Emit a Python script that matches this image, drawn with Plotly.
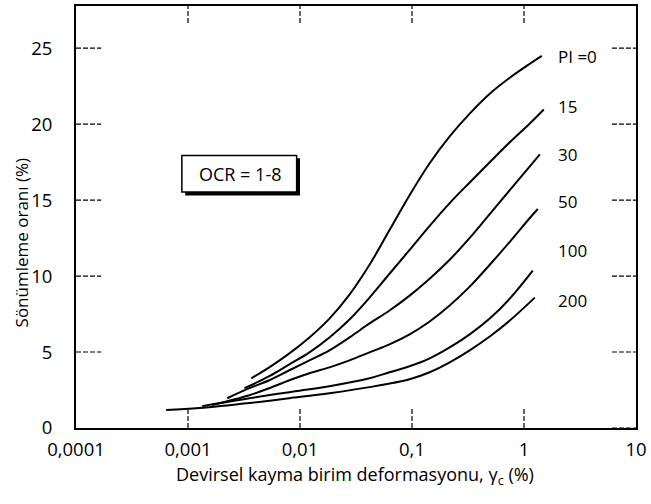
import plotly.graph_objects as go

# Cyclic shear strain (%) and damping ratio (%) for each plasticity index
pi_labels = ["PI =0", "15", "30", "50", "100", "200"]

strain_pi0 = [0.00367, 0.00532, 0.00804, 0.01214, 0.01832, 0.02766, 0.04176, 0.0630, 0.0952,
              0.1437, 0.2169, 0.3275, 0.4944, 0.7464, 1.127, 1.443]
damp_pi0 = [3.27, 3.99, 4.91, 5.96, 7.20, 8.78, 10.74, 13.03, 15.32,
            17.42, 19.19, 20.69, 22.00, 23.05, 23.97, 24.49]

strain_pi15 = [0.00319, 0.00532, 0.00804, 0.01214, 0.01832, 0.02766, 0.04176, 0.0630, 0.0952,
               0.1437, 0.2169, 0.3275, 0.4944, 0.7464, 1.127, 1.503]
damp_pi15 = [2.62, 3.41, 4.19, 4.98, 5.96, 7.14, 8.58, 10.15, 11.72,
             13.30, 14.80, 16.16, 17.49, 18.80, 20.04, 20.96]

strain_pi30 = [0.00224, 0.00353, 0.00532, 0.00804, 0.01214, 0.01832, 0.02766, 0.04176, 0.0630,
               0.0952, 0.1437, 0.2169, 0.3275, 0.4944, 0.7464, 1.127, 1.385]
damp_pi30 = [1.96, 2.62, 3.14, 3.80, 4.45, 5.11, 5.96, 6.88, 7.73,
             8.71, 9.82, 11.07, 12.51, 14.08, 15.65, 17.22, 18.01]

strain_pi50 = [0.00164, 0.00353, 0.00532, 0.00804, 0.01214, 0.01832, 0.02766, 0.04176, 0.0630,
               0.0952, 0.1437, 0.2169, 0.3275, 0.4944, 0.7464, 1.127, 1.328]
damp_pi50 = [1.51, 2.16, 2.62, 3.14, 3.60, 3.99, 4.45, 4.98, 5.50,
             6.16, 7.01, 8.06, 9.30, 10.74, 12.25, 13.82, 14.41]

strain_pi100 = [0.00134, 0.00353, 0.00804, 0.01832, 0.04176, 0.0630, 0.0952,
                0.1437, 0.2169, 0.3275, 0.4944, 0.7464, 1.198]
damp_pi100 = [1.44, 1.96, 2.36, 2.75, 3.27, 3.67, 4.06,
              4.58, 5.30, 6.16, 7.20, 8.51, 10.35]

strain_pi200 = [0.000638, 0.00126, 0.00353, 0.00804, 0.01832, 0.04176, 0.0952,
                0.1437, 0.2169, 0.3275, 0.4944, 0.7464, 1.249]
damp_pi200 = [1.18, 1.31, 1.64, 1.96, 2.29, 2.69, 3.21,
              3.67, 4.32, 5.11, 6.02, 7.07, 8.58]

x_tick_vals = [0.0001, 0.001, 0.01, 0.1, 1, 10]
x_tick_text = ["0,0001", "0,001", "0,01", "0,1", "1", "10"]
y_tick_vals = [0, 5, 10, 15, 20, 25]

series = [
    (strain_pi0, damp_pi0),
    (strain_pi15, damp_pi15),
    (strain_pi30, damp_pi30),
    (strain_pi50, damp_pi50),
    (strain_pi100, damp_pi100),
    (strain_pi200, damp_pi200),
]

FONT = "Open Sans"

fig = go.Figure()
for (xs, ys), name in zip(series, pi_labels):
    fig.add_trace(go.Scatter(
        x=xs, y=ys, mode="lines", name=name,
        line=dict(color="black", width=2, shape="spline", smoothing=1.0, simplify=False),
        showlegend=False,
    ))

shapes = []
tick_dash = "5px,2px"
# dashed inner ticks on the left and right frame
for v in y_tick_vals:
    if v > 0:
        shapes.append(dict(type="line", xref="paper", yref="y", x0=0, x1=0.045, y0=v, y1=v,
                           line=dict(color="black", width=1.2, dash=tick_dash)))
    shapes.append(dict(type="line", xref="paper", yref="y", x0=0.957, x1=1, y0=v, y1=v,
                       line=dict(color="black", width=1.2, dash=tick_dash)))
# dashed inner ticks on the bottom and top frame
for v in x_tick_vals[1:-1]:
    shapes.append(dict(type="line", xref="x", yref="paper", x0=v, x1=v, y0=0, y1=0.047,
                       line=dict(color="black", width=1.2, dash=tick_dash)))
    shapes.append(dict(type="line", xref="x", yref="paper", x0=v, x1=v, y0=0.96, y1=1,
                       line=dict(color="black", width=1.2, dash=tick_dash)))

# OCR note box with drop shadow
shapes.append(dict(type="rect", xref="paper", yref="paper", x0=0.195, x1=0.400, y0=0.551, y1=0.639,
                   fillcolor="black", line=dict(width=0)))
shapes.append(dict(type="rect", xref="paper", yref="paper", x0=0.189, x1=0.394, y0=0.559, y1=0.646,
                   fillcolor="white", line=dict(color="black", width=1.5)))

annotations = [
    dict(text="OCR = 1-8", xref="paper", yref="paper", x=0.292, y=0.603,
         xanchor="center", yanchor="middle", showarrow=False,
         font=dict(family=FONT, size=18, color="black")),
    dict(text="Sönümleme oranı (%)", xref="paper", yref="paper", x=-0.098, y=0.440,
         xanchor="center", yanchor="middle", textangle=-90, showarrow=False,
         font=dict(family=FONT, size=17, color="black")),
    dict(text="Devirsel kayma birim deformasyonu, γ<sub>c</sub> (%)", xref="paper", yref="paper",
         x=0.499, y=-0.112, xanchor="center", yanchor="middle", showarrow=False,
         font=dict(family=FONT, size=18, color="black")),
]

label_y = [24.43, 21.15, 18.0, 14.93, 11.66, 8.38]
for name, ly in zip(pi_labels, label_y):
    annotations.append(dict(text=name, xref="paper", yref="y", x=0.857, y=ly,
                            xanchor="left", yanchor="middle", showarrow=False,
                            font=dict(family=FONT, size=17, color="black")))

fig.update_layout(
    width=651, height=504,
    margin=dict(l=76, r=14, t=4, b=76),
    paper_bgcolor="white", plot_bgcolor="white",
    font=dict(family=FONT, size=18, color="black"),
    shapes=shapes, annotations=annotations,
    xaxis=dict(type="log", range=[-4, 1], tickvals=x_tick_vals, ticktext=x_tick_text,
               showgrid=False, zeroline=False, showline=True, mirror=True,
               linecolor="black", linewidth=1.8,
               ticks="", ticklabelstandoff=4,
               tickfont=dict(family=FONT, size=18.5)),
    yaxis=dict(range=[0, 27.77], tickvals=y_tick_vals,
               showgrid=False, zeroline=False, showline=True, mirror=True,
               linecolor="black", linewidth=1.8,
               ticks="", ticklabelstandoff=18,
               tickfont=dict(family=FONT, size=18.5)),
)

fig.write_html("out.html")
